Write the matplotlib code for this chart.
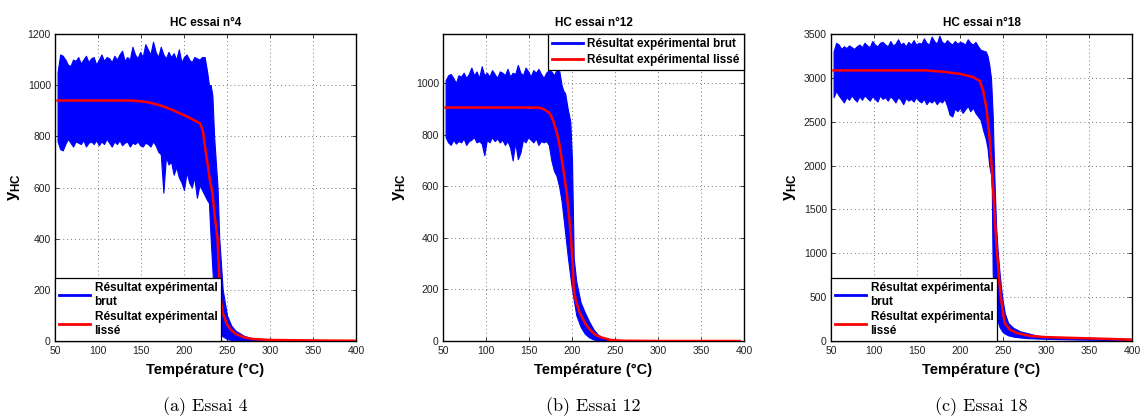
import matplotlib
matplotlib.use("Agg")
import matplotlib.pyplot as plt
from matplotlib.lines import Line2D

# ---------------- data ----------------
temp_a = [53,56,59,62,65,68,71,74,77,80,83,86,89,92,95,98,101,104,107,110,113,116,119,122,125,128,131,134,137,140,
          143,146,149,152,155,158,161,164,167,170,173,176,179,182,185,188,191,194,197,200,203,206,209,212,215,218,221,224,227,
          229,231,233,235,237,239,241,243,245,248,250,255,260,270,281,300,330,360,400]
brut_hi_a = [1050,1120,1115,1100,1080,1075,1100,1095,1110,1085,1100,1115,1090,1105,1110,1080,1100,1120,1095,1110,
             1105,1090,1115,1100,1120,1135,1095,1110,1100,1150,1120,1105,1130,1110,1160,1140,1120,1170,1130,1110,
             1150,1120,1105,1130,1110,1125,1100,1140,1090,1110,1120,1100,1090,1110,1105,1100,1110,1110,1050,
             1000,1000,960,800,700,600,400,300,200,140,100,60,40,20,8,6,5,4,3]
brut_lo_a = [780,750,745,770,790,775,760,780,775,770,785,760,775,780,770,785,765,780,770,790,
             775,760,780,770,785,765,775,780,760,775,770,780,765,760,775,770,760,780,765,740,
             730,580,720,690,700,650,680,640,620,590,660,620,600,640,560,610,590,570,550,
             540,400,280,170,100,60,40,25,18,12,8,4,2,0,0,0,0,0,0]
temp_lisse_a = [53,100,140,155,165,175,185,195,205,212,219,222,225,228,230,233,236,239,241,243,245,250,255,260,270,280,300,350,400]
lisse_a = [940,940,940,935,928,918,905,890,875,862,850,820,746,680,629,580,480,400,250,160,110,65,42,28,14,8,4,2,1]

temp_b = [53,56,59,62,65,68,71,74,77,80,83,86,89,92,95,98,101,104,107,110,113,116,119,122,125,128,131,134,137,140,
          143,146,149,152,155,158,161,164,167,170,173,176,179,182,185,
          188,190,192,195,198,200,202,205,210,215,220,225,230,235,240,245,250,260,300,350,395]
brut_hi_b = [1010,1030,1035,1020,1000,1030,1025,1040,1020,1035,1060,1030,1045,1020,1065,1030,1040,1025,1050,1035,
             1020,1045,1040,1030,1055,1025,1040,1035,1070,1040,1030,1060,1045,1025,1050,1040,1055,1035,1020,1040,
             1050,1045,1030,1050,1050,
             990,970,960,900,850,700,320,230,150,110,75,45,25,14,8,4,2,0,0,0,0]
brut_lo_b = [790,770,760,780,765,775,770,785,760,775,780,790,770,775,765,720,780,770,790,775,
             785,770,780,760,775,750,700,770,705,730,780,770,790,780,770,785,760,775,770,775,
             760,700,660,640,600,
             540,480,420,330,250,200,160,100,55,28,14,6,2,0,0,0,0,0,0,0,0]
temp_lisse_b = [53,160,165,170,174,178,182,185,188,191,194,197,199,201,202,205,209,215,221,228,236,245,260,300,395]
lisse_b = [905,905,902,893,883,855,812,770,707,640,570,470,395,280,200,150,110,70,43,22,12,4,1,0,0]

temp_c = [53,56,59,62,65,68,71,74,77,80,83,86,89,92,95,98,101,104,107,110,113,116,119,122,125,128,131,134,137,140,
          143,146,149,152,155,158,161,164,167,170,173,176,179,182,185,188,191,194,197,200,203,206,209,212,215,218,221,224,227,230,
          232,234,236,237,238,239,240,242,244,246,249,252,256,262,270,278,290,310,340,370,400]
brut_hi_c = [3300,3400,3380,3330,3360,3340,3370,3350,3330,3360,3380,3350,3400,3370,3350,3420,3380,3360,3400,3410,
             3380,3360,3420,3370,3390,3440,3380,3400,3360,3410,3380,3430,3380,3400,3390,3450,3400,3380,3470,3420,
             3390,3480,3410,3390,3430,3400,3380,3420,3390,3410,3400,3380,3440,3400,3380,3410,3360,3320,3310,3300,
             3250,3150,3000,2800,2577,2200,1850,1300,1000,775,500,320,205,150,110,91,60,45,38,32,25]
brut_lo_c = [2780,2850,2800,2760,2720,2780,2750,2800,2760,2730,2790,2750,2800,2770,2740,2790,2760,2730,2800,2760,
             2780,2740,2790,2760,2720,2780,2750,2700,2770,2740,2760,2730,2780,2740,2720,2760,2700,2740,2720,2750,
             2700,2740,2720,2760,2680,2580,2560,2650,2620,2660,2600,2640,2680,2620,2660,2600,2560,2520,2400,2300,
             2200,2000,1900,1722,775,600,450,300,220,160,110,85,65,50,40,33,28,22,16,12,8]
temp_lisse_c = [53,160,180,200,215,223,227,231,235,238.6,242,246.5,250,252,258,266,280,296,320,350,380,400]
lisse_c = [3085,3085,3070,3045,3010,2965,2850,2634,2258,1720,1150,580,320,205,130,91,60,46,38,30,22,15]

titles = ["HC essai n°4", "HC essai n°12", "HC essai n°18"]
captions = ["(a) Essai 4", "(b) Essai 12", "(c) Essai 18"]
x_ticks = [50, 100, 150, 200, 250, 300, 350, 400]
y_ticks = [[0, 200, 400, 600, 800, 1000, 1200],
           [0, 200, 400, 600, 800, 1000],
           [0, 500, 1000, 1500, 2000, 2500, 3000, 3500]]
y_lims = [1200, 1190, 3500]
label_brut_2l = "Résultat expérimental\nbrut"
label_lisse_2l = "Résultat expérimental\nlissé"
label_brut_1l = "Résultat expérimental brut"
label_lisse_1l = "Résultat expérimental lissé"

# ---------------- style ----------------
SANS = ["Liberation Sans Narrow", "Liberation Sans", "DejaVu Sans"]
plt.rcParams["font.family"] = SANS
plt.rcParams["mathtext.fontset"] = "custom"
plt.rcParams["mathtext.bf"] = "Liberation Sans:bold"
plt.rcParams["mathtext.rm"] = "Liberation Sans"

fig = plt.figure(figsize=(11.4, 4.16), dpi=100)
lefts = [55 / 1140, 443 / 1140, 831 / 1140]
W = 301 / 1140
B = 1 - 341 / 416
H = (341 - 34) / 416

panels = [
    (temp_a, brut_hi_a, brut_lo_a, temp_lisse_a, lisse_a),
    (temp_b, brut_hi_b, brut_lo_b, temp_lisse_b, lisse_b),
    (temp_c, brut_hi_c, brut_lo_c, temp_lisse_c, lisse_c),
]

for i, (t, hi, lo, tl, yl) in enumerate(panels):
    ax = fig.add_axes([lefts[i], B, W, H])
    ax.fill_between(t, lo, hi, color="#0000ff", edgecolor="#0000ff", linewidth=0.8, zorder=2)
    ax.plot(tl, yl, color="#ff0000", lw=1.8, zorder=3)
    ax.set_xlim(50, 400)
    ax.set_ylim(0, y_lims[i])
    ax.set_xticks(x_ticks)
    ax.set_yticks(y_ticks[i])
    ax.grid(True, linestyle=(0, (1, 3)), color="#777777", linewidth=0.7)
    ax.set_axisbelow(True)
    ax.tick_params(direction="in", length=3, width=0.6, labelsize=7.5, colors="#222222",
                   top=True, right=True)
    ax.tick_params(axis="x", pad=3.5)
    ax.tick_params(axis="y", pad=3)
    for s in ax.spines.values():
        s.set_linewidth(1.0)
        s.set_color("black")
    ax.set_title(titles[i], fontsize=8.5, fontweight="bold", pad=6)
    ax.set_xlabel("Température (°C)", fontsize=10.5, fontweight="bold", labelpad=5)
    ax.set_ylabel(r"$\mathbf{y}_{\mathbf{HC}}$", fontsize=12, labelpad=4 if i != 1 else 6)

    h_b = Line2D([], [], color="#0000ff", lw=2)
    h_r = Line2D([], [], color="#ff0000", lw=2)
    if i == 1:
        leg = ax.legend([h_b, h_r], [label_brut_1l, label_lisse_1l], loc="upper right",
                        borderaxespad=0, fancybox=False, framealpha=1, handlelength=2.6,
                        prop={"family": SANS, "weight": "bold", "size": 8.5},
                        borderpad=0.35, labelspacing=0.35, handletextpad=0.4)
    else:
        leg = ax.legend([h_b, h_r], [label_brut_2l, label_lisse_2l], loc="lower left",
                        borderaxespad=0, fancybox=False, framealpha=1, handlelength=2.6,
                        prop={"family": SANS, "weight": "bold", "size": 8.5},
                        borderpad=0.35, labelspacing=0.3, handletextpad=0.4)
    leg.get_frame().set_edgecolor("black")
    leg.get_frame().set_linewidth(0.9)
    leg.set_zorder(5)

    fig.text(lefts[i] + W / 2, 1 - 407 / 416, captions[i], ha="center", va="center",
             fontsize=13, family=["cmr10", "DejaVu Serif"])

fig.savefig("out.png", dpi=100)
